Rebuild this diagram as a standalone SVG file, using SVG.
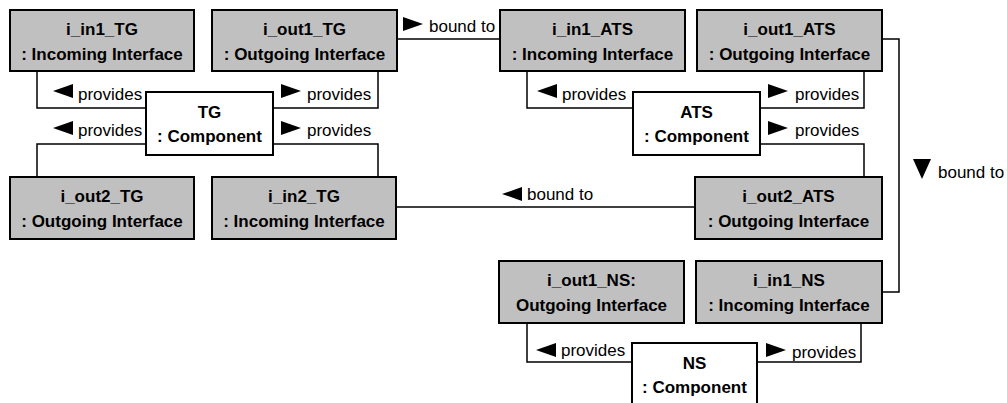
<svg xmlns="http://www.w3.org/2000/svg" width="1007" height="403" viewBox="0 0 1007 403">
<style>
.iface{fill:#c0c0c0;stroke:#000;stroke-width:2}
.comp{fill:#fff;stroke:#000;stroke-width:2}
.t{font-family:"Liberation Sans",Arial,sans-serif;font-size:17px;font-weight:bold;text-anchor:middle;fill:#000}
.l{font-family:"Liberation Sans",Arial,sans-serif;font-size:17px;fill:#000}
.c{fill:none;stroke:#000;stroke-width:1.5}
.a{fill:#000}
</style>
<rect width="1007" height="403" fill="#fff"/>
<g id="connectors">
<polyline class="c" points="37,71 37,108 146,108"/>
<polyline class="c" points="37,177 37,144 146,144"/>
<polyline class="c" points="378,71 378,108 273,108"/>
<polyline class="c" points="273,144 378,144 378,177"/>
<line class="c" x1="397" y1="39" x2="500" y2="39"/>
<line class="c" x1="396" y1="207" x2="695" y2="207"/>
<polyline class="c" points="527,71 527,108 633,108"/>
<polyline class="c" points="864,71 864,108 760,108"/>
<polyline class="c" points="760,144 864,144 864,177"/>
<polyline class="c" points="882,39 899,39 899,292 882,292"/>
<polyline class="c" points="527,323 527,362 632,362"/>
<polyline class="c" points="861,323 861,362 757,362"/>
<polygon class="a" points="53,91 73,84 73,98"/>
<text class="l" x="78" y="100">provides</text>
<polygon class="a" points="53,128 73,121 73,135"/>
<text class="l" x="78" y="136">provides</text>
<polygon class="a" points="301,91 281,84 281,98"/>
<text class="l" x="307" y="100">provides</text>
<polygon class="a" points="301,128 281,121 281,135"/>
<text class="l" x="307" y="136">provides</text>
<polygon class="a" points="423,24 403,17 403,31"/>
<text class="l" x="429" y="32">bound to</text>
<polygon class="a" points="502,194 522,187 522,201"/>
<text class="l" x="527" y="200">bound to</text>
<polygon class="a" points="537,91 557,84 557,98"/>
<text class="l" x="562" y="100">provides</text>
<polygon class="a" points="788,91 768,84 768,98"/>
<text class="l" x="795" y="100">provides</text>
<polygon class="a" points="788,128 768,121 768,135"/>
<text class="l" x="795" y="136">provides</text>
<polygon class="a" points="922,179 913,159 931,159"/>
<text class="l" x="938" y="178">bound to</text>
<polygon class="a" points="536,350 556,343 556,357"/>
<text class="l" x="561" y="356">provides</text>
<polygon class="a" points="786,350 766,343 766,357"/>
<text class="l" x="792" y="358">provides</text>
</g>
<g id="i_in1_TG"><rect class="iface" x="10" y="10" width="184" height="61"/><text class="t" x="102" y="35">i_in1_TG</text><text class="t" x="102" y="60">: Incoming Interface</text></g>
<g id="i_out1_TG"><rect class="iface" x="212" y="10" width="185" height="61"/><text class="t" x="304.5" y="35">i_out1_TG</text><text class="t" x="304.5" y="60">: Outgoing Interface</text></g>
<g id="i_in1_ATS"><rect class="iface" x="500" y="10" width="185" height="61"/><text class="t" x="592.5" y="35">i_in1_ATS</text><text class="t" x="592.5" y="60">: Incoming Interface</text></g>
<g id="i_out1_ATS"><rect class="iface" x="697" y="10" width="185" height="61"/><text class="t" x="789.5" y="35">i_out1_ATS</text><text class="t" x="789.5" y="60">: Outgoing Interface</text></g>
<g id="TG"><rect class="comp" x="146" y="92" width="127" height="63"/><text class="t" x="209.5" y="118">TG</text><text class="t" x="209.5" y="142">: Component</text></g>
<g id="ATS"><rect class="comp" x="633" y="92" width="127" height="63"/><text class="t" x="696.5" y="118">ATS</text><text class="t" x="696.5" y="142">: Component</text></g>
<g id="i_out2_TG"><rect class="iface" x="10" y="177" width="184" height="62"/><text class="t" x="102" y="202">i_out2_TG</text><text class="t" x="102" y="227">: Outgoing Interface</text></g>
<g id="i_in2_TG"><rect class="iface" x="212" y="177" width="184" height="62"/><text class="t" x="304" y="202">i_in2_TG</text><text class="t" x="304" y="227">: Incoming Interface</text></g>
<g id="i_out2_ATS"><rect class="iface" x="695" y="177" width="187" height="62"/><text class="t" x="788.5" y="202">i_out2_ATS</text><text class="t" x="788.5" y="227">: Outgoing Interface</text></g>
<g id="i_out1_NS"><rect class="iface" x="499" y="261" width="185" height="62"/><text class="t" x="591.5" y="286">i_out1_NS:</text><text class="t" x="591.5" y="311">Outgoing Interface</text></g>
<g id="i_in1_NS"><rect class="iface" x="696" y="261" width="186" height="62"/><text class="t" x="789" y="286">i_in1_NS</text><text class="t" x="789" y="311">: Incoming Interface</text></g>
<g id="NS"><rect class="comp" x="632" y="343" width="125" height="66"/><text class="t" x="694.5" y="369">NS</text><text class="t" x="694.5" y="393">: Component</text></g>
</svg>
